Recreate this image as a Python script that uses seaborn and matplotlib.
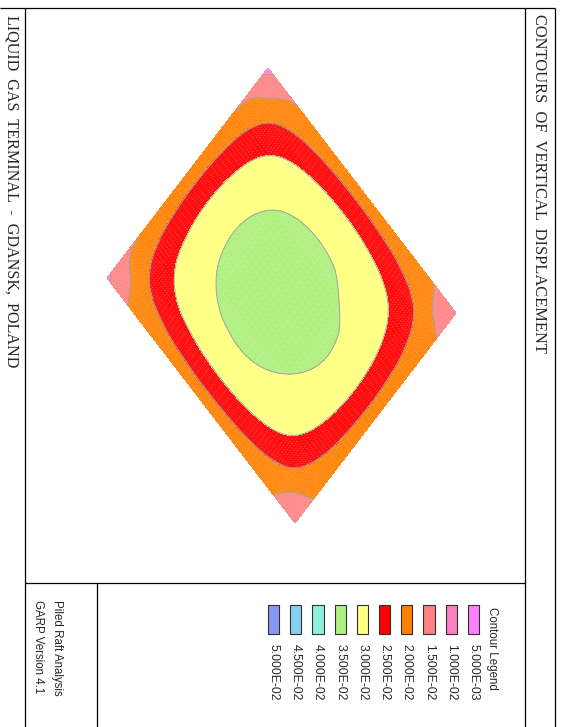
import numpy as np
import matplotlib
matplotlib.use("Agg")
import matplotlib.pyplot as plt
import matplotlib.tri as mtri
import seaborn as sns

# Contour legend as printed by GARP
legend_labels = ["5.000E-03", "1.000E-02", "1.500E-02", "2.000E-02", "2.500E-02",
                 "3.000E-02", "3.500E-02", "4.000E-02", "4.500E-02", "5.000E-02"]
legend_levels = [0.005, 0.010, 0.015, 0.020, 0.025, 0.030, 0.035, 0.040, 0.045, 0.050]
legend_colors = ["#ff80ff", "#ff80c0", "#ff8080", "#ff8000", "#ff0000",
                 "#ffff80", "#b0f080", "#90f0e0", "#88d0f0", "#8898f0"]

# raft outline corners (left, top, right, bottom) in page units
raft_x = [107, 268, 457, 295]
raft_y = [278, 68, 313, 523]

# node positions (fraction along left->top edge and left->bottom edge)
node_frac = [0.0, 0.06, 0.12, 0.20, 0.32, 0.50, 0.68, 0.80, 0.88, 0.94, 1.0]

# vertical displacement at nodes (x1e-3), rows: left->bottom, cols: left->top
disp_rows = [
    [13.9, 17.0, 19.0, 20.1, 21.0, 21.5, 21.0, 20.0, 19.0, 16.6, 13.0],
    [17.8, 19.4, 21.9, 24.0, 25.6, 26.4, 25.6, 24.0, 21.9, 19.4, 17.2],
    [20.2, 21.9, 24.9, 27.5, 29.4, 30.4, 29.4, 27.5, 24.9, 21.9, 19.4],
    [20.8, 24.0, 27.5, 30.4, 32.7, 33.8, 32.7, 30.4, 27.5, 24.0, 20.4],
    [21.2, 25.6, 29.4, 32.7, 35.2, 36.4, 35.2, 32.7, 29.4, 25.6, 21.0],
    [21.5, 26.4, 30.4, 33.8, 36.4, 37.7, 36.2, 33.6, 30.4, 26.4, 21.5],
    [21.2, 25.6, 29.4, 32.7, 34.8, 36.2, 34.6, 32.4, 29.4, 25.6, 21.1],
    [20.8, 24.0, 27.5, 30.4, 32.5, 33.6, 32.4, 30.3, 27.5, 24.0, 20.7],
    [20.1, 21.9, 24.9, 27.5, 29.4, 30.4, 29.4, 27.5, 24.9, 21.9, 20.1],
    [17.6, 19.4, 21.9, 24.0, 25.6, 26.4, 25.6, 24.0, 21.9, 19.4, 17.6],
    [14.5, 17.8, 20.1, 20.8, 21.2, 21.5, 21.2, 20.8, 19.9, 17.4, 14.5],
]

title = "CONTOURS  OF  VERTICAL  DISPLACEMENT"
project = "LIQUID  GAS  TERMINAL  -  GDANSK,  POLAND"

sns.set_theme(style="white")
plt.rcParams['font.family'] = ['Liberation Sans', 'DejaVu Sans']

W, H = 561, 727
fig = plt.figure(figsize=(W / 100, H / 100), dpi=100)
ax = fig.add_axes([0, 0, 1, 1])
ax.set_xlim(0, W)
ax.set_ylim(H, 0)
ax.axis('off')

# page frame
frame_kw = dict(color='black', lw=0.9, solid_capstyle='butt')
ax.plot([0, 555], [8, 8], **frame_kw)
ax.plot([25, 25], [8, H], **frame_kw)
ax.plot([525, 525], [8, H], **frame_kw)
ax.plot([555, 555], [8, H], **frame_kw)
ax.plot([25, 525], [583, 583], **frame_kw)
ax.plot([97, 97], [583, H], **frame_kw)

# contour field on the raft mesh
disp = np.array(disp_rows) * 1e-3
S, T = np.meshgrid(node_frac, node_frac)
gx = raft_x[0] + S * (raft_x[1] - raft_x[0]) + T * (raft_x[3] - raft_x[0])
gy = raft_y[0] + S * (raft_y[1] - raft_y[0]) + T * (raft_y[3] - raft_y[0])
triang = mtri.Triangulation(gx.ravel(), gy.ravel())
interp = mtri.CubicTriInterpolator(triang, disp.ravel(), kind='geom')
refiner = mtri.UniformTriRefiner(triang)
fine_tri, fine_z = refiner.refine_field(disp.ravel(), triinterpolator=interp, subdiv=3)

ax.tricontourf(fine_tri, fine_z, levels=legend_levels, colors=legend_colors, extend='max')
ax.triplot(fine_tri, color='white', lw=0.3, alpha=0.18)
ax.tricontour(fine_tri, fine_z, levels=legend_levels, colors='#a4a4a4', linewidths=0.7)

# text
ax.text(539, 14, title, rotation=-90, ha='center', va='top',
        family=['Liberation Serif', 'DejaVu Serif'], fontsize=11.9)
ax.text(11, 15, project, rotation=-90, ha='center', va='top',
        family=['Liberation Serif', 'DejaVu Serif'], fontsize=11.6)
ax.text(492, 607, "Contour Legend", rotation=-90, ha='center', va='top', fontsize=8.3)
ax.text(57, 600, "Piled Raft Analysis", rotation=-90, ha='center', va='top', fontsize=8.3)
ax.text(38, 600, "GARP Version 4.1", rotation=-90, ha='center', va='top', fontsize=8.3)

# legend boxes
leg_ax = fig.add_axes([262.5 / W, 1 - 634 / H, 222 / W, 29 / H])
bar_order = legend_labels[::-1]
sns.barplot(x=bar_order, y=[1] * len(bar_order), hue=bar_order,
            palette=legend_colors[::-1], dodge=False, legend=False,
            width=0.5, saturation=1, edgecolor='#303030', linewidth=0.8, ax=leg_ax)
for p in leg_ax.patches:
    p.set_clip_on(False)
leg_ax.set_ylim(0, 1)
leg_ax.set_xlim(-0.5, len(bar_order) - 0.5)
leg_ax.set_yticks([])
leg_ax.set_ylabel('')
leg_ax.set_xticks(range(len(bar_order)))
leg_ax.set_xticklabels(bar_order, rotation=-90, fontsize=8.8)
leg_ax.tick_params(axis='x', length=0, pad=7)
leg_ax.set_facecolor('none')
sns.despine(ax=leg_ax, left=True, bottom=True)

fig.savefig("out.png", dpi=100)
